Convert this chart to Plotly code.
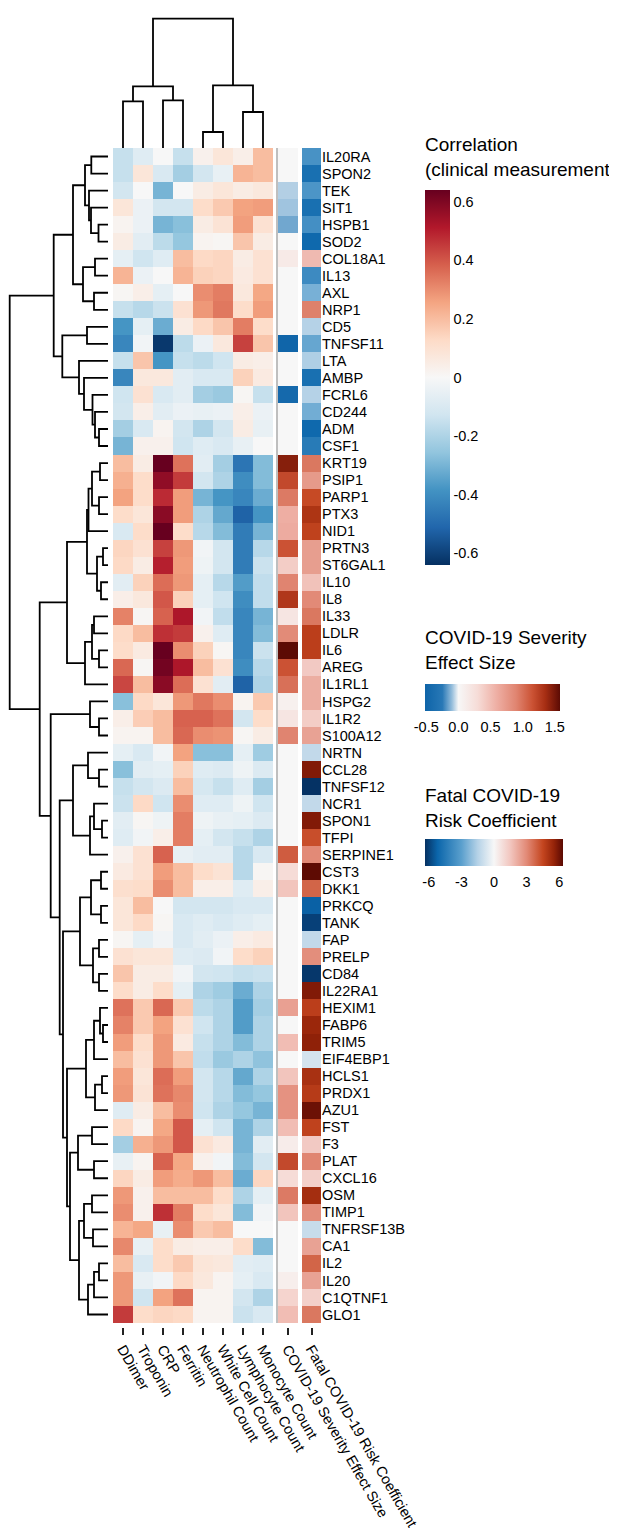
import plotly.graph_objects as go

W, H = 617, 1528

genes = [
    "IL20RA", "SPON2", "TEK", "SIT1", "HSPB1", "SOD2", "COL18A1", "IL13", "AXL", "NRP1",
    "CD5", "TNFSF11", "LTA", "AMBP", "FCRL6", "CD244", "ADM", "CSF1", "KRT19", "PSIP1",
    "PARP1", "PTX3", "NID1", "PRTN3", "ST6GAL1", "IL10", "IL8", "IL33", "LDLR", "IL6",
    "AREG", "IL1RL1", "HSPG2", "IL1R2", "S100A12", "NRTN", "CCL28", "TNFSF12", "NCR1", "SPON1",
    "TFPI", "SERPINE1", "CST3", "DKK1", "PRKCQ", "TANK", "FAP", "PRELP", "CD84", "IL22RA1",
    "HEXIM1", "FABP6", "TRIM5", "EIF4EBP1", "HCLS1", "PRDX1", "AZU1", "FST", "F3", "PLAT",
    "CXCL16", "OSM", "TIMP1", "TNFRSF13B", "CA1", "IL2", "IL20", "C1QTNF1", "GLO1",
]

clinical = ["DDimer", "Troponin", "CRP", "Ferritin", "Neutrophil Count",
            "White Cell Count", "Lymphocyte Count", "Monocyte Count"]

# correlation of each protein with each clinical measurement (one list per column)
ddimer = [-0.15, -0.15, -0.12, 0.08, 0.02, 0.05, -0.06, 0.22, 0.01, -0.15,
          -0.38, -0.42, -0.15, -0.42, -0.13, -0.12, -0.22, -0.30, 0.20, 0.23,
          0.26, 0.12, -0.10, 0.14, 0.13, -0.07, 0.04, 0.32, 0.13, 0.12,
          0.37, 0.43, -0.27, 0.04, 0.02, -0.06, -0.27, -0.15, -0.14, -0.07,
          -0.08, 0.03, 0.06, 0.11, 0.08, 0.08, 0.01, 0.10, 0.18, 0.12,
          0.35, 0.32, 0.27, 0.20, 0.27, 0.28, -0.08, 0.13, -0.22, -0.05,
          0.14, 0.28, 0.30, 0.22, 0.31, 0.20, 0.28, 0.28, 0.45]
troponin = [-0.08, 0.08, 0.00, -0.04, -0.04, -0.07, -0.13, -0.04, 0.04, -0.18,
            -0.06, -0.02, 0.18, 0.07, 0.10, 0.04, -0.10, 0.03, 0.05, 0.12,
            0.12, 0.08, 0.12, 0.10, 0.05, 0.15, 0.07, 0.01, 0.20, 0.06,
            0.01, 0.20, 0.13, 0.16, 0.02, -0.10, -0.07, -0.12, 0.13, 0.01,
            -0.02, 0.10, 0.10, 0.12, 0.20, 0.13, -0.06, 0.08, 0.05, 0.05,
            0.17, 0.17, 0.12, 0.10, 0.08, 0.09, 0.05, 0.02, 0.23, 0.02,
            0.05, 0.03, 0.03, 0.25, -0.05, -0.10, -0.05, -0.13, 0.12]
crp = [0.00, -0.10, -0.30, -0.12, -0.30, -0.17, -0.08, 0.00, -0.06, -0.14,
       -0.32, -0.62, -0.38, 0.07, -0.10, -0.07, 0.02, 0.03, 0.64, 0.57,
       0.48, 0.58, 0.64, 0.44, 0.50, 0.36, 0.40, 0.38, 0.47, 0.64,
       0.62, 0.58, 0.08, 0.20, 0.20, -0.02, -0.06, -0.09, -0.13, -0.03,
       0.04, 0.38, 0.27, 0.30, 0.00, 0.01, -0.02, 0.08, 0.05, 0.12,
       0.37, 0.26, 0.28, 0.28, 0.36, 0.35, 0.20, 0.25, 0.28, 0.38,
       0.27, 0.20, 0.47, -0.05, 0.12, 0.12, -0.02, 0.26, 0.14]
ferritin = [-0.15, -0.22, 0.00, -0.12, -0.27, -0.25, 0.20, 0.22, 0.00, 0.10,
            0.05, -0.17, -0.15, -0.07, -0.07, -0.04, -0.12, -0.13, 0.35, 0.45,
            0.27, 0.27, 0.12, 0.28, 0.27, 0.28, 0.15, 0.52, 0.45, 0.30,
            0.52, 0.36, 0.28, 0.38, 0.37, 0.26, 0.15, 0.20, 0.30, 0.33,
            0.33, -0.05, 0.20, 0.20, -0.12, -0.10, -0.10, -0.08, -0.02, -0.06,
            0.17, 0.10, 0.06, 0.18, 0.27, 0.31, 0.30, 0.40, 0.40, 0.25,
            0.24, 0.20, 0.33, 0.30, 0.05, 0.17, 0.13, 0.35, 0.13]
neutrophil = [0.03, -0.12, 0.05, 0.12, 0.05, 0.02, 0.13, 0.15, 0.30, 0.28,
              0.13, -0.04, -0.17, -0.10, -0.22, -0.05, -0.20, -0.08, -0.07, -0.12,
              -0.30, -0.20, -0.18, -0.02, -0.03, -0.06, -0.06, -0.02, 0.03, 0.15,
              0.20, 0.10, 0.34, 0.38, 0.30, -0.27, -0.08, -0.11, -0.08, -0.03,
              -0.06, -0.07, 0.12, 0.04, -0.12, -0.08, -0.07, -0.09, -0.12, -0.20,
              -0.17, -0.13, -0.15, -0.16, -0.12, -0.12, -0.13, -0.06, 0.10, 0.03,
              0.28, 0.20, 0.12, 0.17, 0.04, 0.08, 0.07, 0.02, 0.02]
white_cells = [0.08, -0.05, 0.08, 0.17, 0.09, 0.01, 0.14, 0.14, 0.33, 0.34,
               0.18, 0.07, -0.13, -0.10, -0.24, -0.04, -0.12, -0.10, -0.22, -0.20,
               -0.38, -0.33, -0.28, -0.12, -0.12, -0.18, -0.13, -0.16, -0.08, 0.01,
               0.10, -0.07, 0.30, 0.35, 0.29, -0.27, -0.09, -0.15, -0.08, -0.05,
               -0.12, -0.07, 0.09, 0.04, -0.12, -0.10, -0.04, -0.02, -0.13, -0.23,
               -0.20, -0.20, -0.20, -0.24, -0.18, -0.18, -0.20, -0.13, 0.06, -0.02,
               0.20, 0.12, 0.08, 0.20, 0.04, 0.07, 0.02, 0.02, 0.02]
lymphocyte = [0.04, 0.22, 0.05, 0.26, 0.27, 0.18, 0.05, 0.06, 0.07, 0.12,
              0.33, 0.44, 0.05, 0.15, 0.01, 0.04, 0.05, -0.05, -0.47, -0.40,
              -0.42, -0.52, -0.45, -0.45, -0.45, -0.36, -0.40, -0.42, -0.42, -0.42,
              -0.40, -0.52, 0.02, -0.12, 0.01, -0.06, -0.03, -0.08, -0.03, -0.06,
              -0.15, -0.18, -0.18, -0.08, -0.10, -0.08, 0.04, 0.12, -0.15, -0.32,
              -0.36, -0.36, -0.28, -0.20, -0.33, -0.28, -0.25, -0.30, -0.30, -0.28,
              -0.32, -0.20, -0.28, 0.00, 0.12, -0.07, -0.06, -0.12, -0.14]
monocyte = [0.20, 0.20, 0.07, 0.27, 0.10, 0.05, 0.10, 0.10, 0.25, 0.27,
            0.12, 0.18, 0.04, 0.06, -0.15, -0.04, -0.05, 0.00, -0.28, -0.28,
            -0.32, -0.38, -0.30, -0.18, -0.14, -0.16, -0.16, -0.30, -0.28, -0.14,
            -0.18, -0.20, 0.17, 0.12, 0.05, -0.23, -0.09, -0.22, -0.13, -0.09,
            -0.20, -0.10, 0.01, 0.04, -0.10, -0.06, 0.06, 0.15, -0.14, -0.20,
            -0.22, -0.20, -0.20, -0.26, -0.20, -0.25, -0.30, -0.20, -0.07, -0.12,
            0.14, -0.06, -0.02, 0.00, -0.28, -0.08, -0.10, -0.20, -0.10]

severity = [0, 0, -0.07, -0.09, -0.15, 0, 0.15, 0, 0, 0,
            0, -0.5, 0, 0, -0.45, 0, 0, 0, 1.45, 1.2,
            0.95, 0.6, 0.62, 1.15, 0.4, 0.9, 1.3, 0.2, 0.85, 1.58,
            1.15, 1.0, 0.08, 0.2, 0.9, 0, 0, 0, 0, 0,
            0, 1.1, 0.3, 0.45, 0, 0, 0, 0, 0, 0,
            0.7, 0, 0.5, 0, 0.45, 0.8, 0.8, 0.5, 0.12, 1.2,
            0.3, 0.95, 0.45, 0, 0, 0, 0.1, 0.35, 0.5]
fatal = [-3.5, -4.8, -3.4, -4.8, -3.6, -5.1, 1.8, -3.8, -2.5, 3.2,
         -1.5, -2.8, -1.6, -4.8, -1.5, -2.6, -5.1, -4.4, 3.4, 2.6,
         4.4, 5.0, 4.6, 2.5, 2.5, 1.6, 3.0, 3.4, 4.7, 4.7,
         1.4, 2.1, 2.1, 1.3, 2.4, -1.2, 5.8, -6.3, -1.2, 5.8,
         4.3, 3.0, 6.3, 3.8, -5.3, -6.0, -1.2, 2.9, -6.2, 5.8,
         4.7, 5.4, 5.6, -0.8, 5.1, 4.8, 6.1, 4.6, 1.4, 3.1,
         1.2, 5.2, 2.9, -1.1, 2.4, 3.8, 2.4, 1.2, 3.4]

# hierarchical clustering: [left, right, merge height]; ints are leaf positions
col_tree = [[[0, 1, 46.7], [2, 3, 47.7], 61.7], [[4, 5, 16], [6, 7, 36], 62.7], 129.3]
row_tree = [
    [
        [[[0, 1, 16.7], [2, [3, [4, 5, 9.5], 17], 19], 23],
         [[6, 7, 13], [8, 9, 14], 25], 35],
        [[10, 11, 21], [12, [13, [14, [15, [16, 17, 9], 13], 15.5], 24], 29], 45.7],
        54.3],
    [
        [[[[[18, 19, 8], [20, 21, 9], 16], 22, 19.5], [[23, 24, 5], [25, 26, 7], 11], 21],
         [[[27, 28, 14], [29, 30, 9], 16], 31, 23], 41],
        [[32, [33, 34, 9], 18],
         [[[35, [36, 37, 9], 20], [[38, [39, 40, 6], 14], 41, 18], 35],
          [[[[42, 43, 7], [44, 45, 7], 17], [[46, 47, 9], [48, 49, 9], 15], 28],
           [[[[50, [51, 52, 5], 8], 53, 14], [[54, 55, 6], 56, 13], 22],
            [[[57, 58, 16], [59, 60, 14], 30],
             [[[61, 62, 16], [63, 64, 15], 24], [[[65, 66, 9], 67, 14], 68, 20], 29],
             38],
            41],
           45],
          48.3],
         57.3],
        68.3],
    98.3]

assert all(len(c) == len(genes) for c in
           [ddimer, troponin, crp, ferritin, neutrophil, white_cells, lymphocyte, monocyte, severity, fatal])

FONT = "Liberation Sans, Arial, sans-serif"
HEAT_TOP, HEAT_BOTTOM = 140, 1315


def fx(px):
    return px / W


def fy(px):
    return 1 - px / H


def dendro(node, pos, hts):
    if isinstance(node, int):
        return float(node), 0.0
    left, right, h = node
    p1, h1 = dendro(left, pos, hts)
    p2, h2 = dendro(right, pos, hts)
    pos += [p1, p1, p2, p2, None]
    hts += [h1, h, h, h2, None]
    return (p1 + p2) / 2, h


RDBU = ["#053061", "#2166AC", "#4393C3", "#92C5DE", "#D1E5F0", "#F7F7F7",
        "#FDDBC7", "#F4A582", "#D6604D", "#B2182B", "#67001F"]
corr_scale = [[i / 10, c] for i, c in enumerate(RDBU)]


def scale_from(stops, lo, hi):
    return [[(v - lo) / (hi - lo), c] for v, c in stops]


SEV_MIN, SEV_MAX = -0.52, 1.58
sev_scale = scale_from([(-0.52, "#0e64a8"), (-0.25, "#2878b6"), (-0.1, "#96bedc"), (0, "#f7f7f7"),
                        (0.3, "#f6dcd7"), (0.6, "#eeaea3"), (0.9, "#e08470"), (1.15, "#cb5234"),
                        (1.35, "#a72e13"), (1.58, "#5c0b04")], SEV_MIN, SEV_MAX)
FAT_MIN, FAT_MAX = -6.35, 6.35
fat_scale = scale_from([(-6.35, "#053061"), (-5.2, "#0b66ab"), (-3, "#5a9fcd"), (-1.5, "#b5d2e7"),
                        (0, "#f7f7f7"), (1.5, "#f2c6bf"), (3, "#e28a77"), (4.5, "#c4451f"),
                        (5.5, "#962409"), (6.35, "#5a0903")], FAT_MIN, FAT_MAX)

z_corr = [list(r) for r in zip(ddimer, troponin, crp, ferritin, neutrophil, white_cells, lymphocyte, monocyte)]
tickfont = dict(family=FONT, size=14.5, color="black")

fig = go.Figure()
fig.add_trace(go.Heatmap(
    z=z_corr, x=clinical, y=genes, xaxis="x", yaxis="y",
    colorscale=corr_scale, zmin=-0.64, zmax=0.64,
    colorbar=dict(x=fx(417), xanchor="left", y=fy(182), yanchor="top",
                  len=375, lenmode="pixels", thickness=25, outlinewidth=0, xpad=0, ypad=0,
                  tickvals=[-0.6, -0.4, -0.2, 0, 0.2, 0.4, 0.6],
                  ticktext=["-0.6", "-0.4", "-0.2", "0", "0.2", "0.4", "0.6"],
                  ticks="", tickfont=tickfont),
))
fig.add_trace(go.Heatmap(
    z=[[v] for v in severity], x=["COVID-19 Severity Effect Size"], y=genes, xaxis="x2", yaxis="y",
    colorscale=sev_scale, zmin=SEV_MIN, zmax=SEV_MAX,
    colorbar=dict(orientation="h", x=fx(417), xanchor="left", y=fy(676), yanchor="top",
                  len=135, lenmode="pixels", thickness=27, outlinewidth=0, xpad=0, ypad=0,
                  tickvals=[-0.5, 0, 0.5, 1, 1.5], ticktext=["-0.5", "0.0", "0.5", "1.0", "1.5"],
                  ticks="outside", ticklen=4, tickcolor="rgba(0,0,0,0)", tickfont=tickfont),
))
fig.add_trace(go.Heatmap(
    z=[[v] for v in fatal], x=["Fatal COVID-19 Risk Coefficient"], y=genes, xaxis="x3", yaxis="y",
    colorscale=fat_scale, zmin=FAT_MIN, zmax=FAT_MAX,
    colorbar=dict(orientation="h", x=fx(417), xanchor="left", y=fy(831), yanchor="top",
                  len=138, lenmode="pixels", thickness=27, outlinewidth=0, xpad=0, ypad=0,
                  tickvals=[-6, -3, 0, 3, 6], ticktext=["-6", "-3", "0", "3", "6"],
                  ticks="outside", ticklen=4, tickcolor="rgba(0,0,0,0)", tickfont=tickfont),
))

# dendrograms
cpos, chts = [], []
dendro(col_tree, cpos, chts)
fig.add_trace(go.Scatter(x=cpos, y=chts, mode="lines", xaxis="x4", yaxis="y4",
                         line=dict(color="black", width=1.8), hoverinfo="skip", showlegend=False))
rpos, rhts = [], []
dendro(row_tree, rpos, rhts)
fig.add_trace(go.Scatter(x=rhts, y=rpos, mode="lines", xaxis="x5", yaxis="y5",
                         line=dict(color="black", width=1.8), hoverinfo="skip", showlegend=False))

heat_ydom = [fy(HEAT_BOTTOM), fy(HEAT_TOP)]
xtick = dict(anchor="free", position=fy(HEAT_BOTTOM + 4), tickangle=60, ticks="outside",
             ticklen=7, tickwidth=1.5, tickcolor="#222", tickfont=dict(family=FONT, size=14.5, color="black"),
             showgrid=False, zeroline=False, showline=False)

fig.update_layout(
    width=W, height=H,
    margin=dict(l=0, r=0, t=0, b=0, autoexpand=False),
    paper_bgcolor="white", plot_bgcolor="white",
    font=dict(family=FONT, color="black"),
    showlegend=False,
    xaxis=dict(domain=[fx(105), fx(265)], tickvals=clinical, **xtick),
    xaxis2=dict(domain=[fx(270), fx(290)], **xtick),
    xaxis3=dict(domain=[fx(294), fx(313)], **xtick),
    yaxis=dict(domain=heat_ydom, anchor="x3", side="right", range=[len(genes) - 0.5, -0.5],
               tickvals=genes, ticks="", ticklabelstandoff=0,
               tickfont=dict(family=FONT, size=14.5, color="black"),
               showgrid=False, zeroline=False, showline=False),
    xaxis4=dict(domain=[fx(105), fx(265)], range=[-0.5, 7.5], visible=False, anchor="y4"),
    yaxis4=dict(domain=[fy(HEAT_TOP), 1], range=[0, 140], visible=False, anchor="x4"),
    xaxis5=dict(domain=[0, fx(100)], range=[100, 0], visible=False, anchor="y5"),
    yaxis5=dict(domain=heat_ydom, range=[len(genes) - 0.5, -0.5], visible=False, anchor="x5"),
    shapes=[dict(type="line", xref="paper", yref="paper", x0=fx(269), x1=fx(269),
                 y0=fy(HEAT_TOP), y1=fy(HEAT_BOTTOM), line=dict(color="#aaaaaa", width=1.5))],
)

title_font = dict(family=FONT, size=19, color="black")
for text, top in [("Correlation<br>(clinical measurement)", 124),
                  ("COVID-19 Severity<br>Effect Size", 617),
                  ("Fatal COVID-19<br>Risk Coefficient", 775)]:
    fig.add_annotation(text=text, x=fx(415), y=fy(top), xref="paper", yref="paper",
                       xanchor="left", yanchor="top", align="left", showarrow=False, font=title_font)

fig.write_html("out.html")
